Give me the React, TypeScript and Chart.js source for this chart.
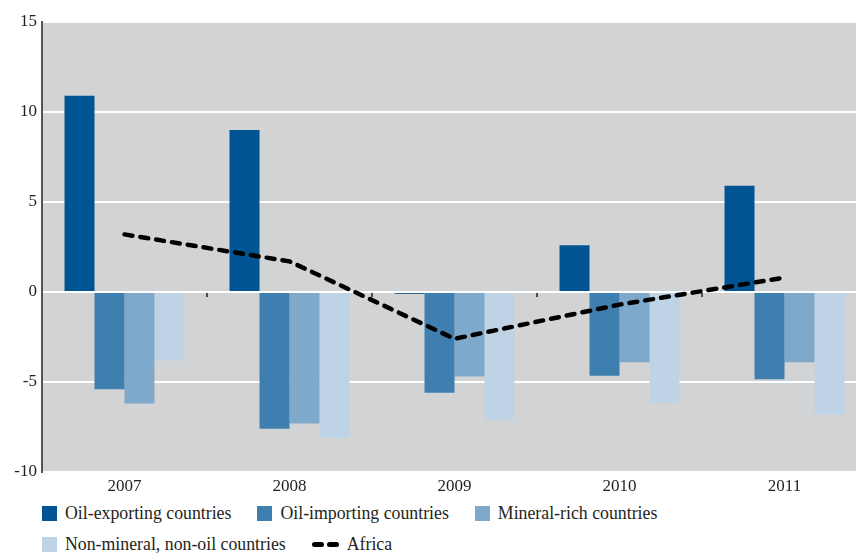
import React, { useEffect, useRef } from "react";
import { Chart, registerables } from "chart.js";

Chart.register(...registerables);

const categories = ["2007", "2008", "2009", "2010", "2011"];
const oilExporting = [10.9, 9.0, -0.1, 2.6, 5.9];
const oilImporting = [-5.4, -7.6, -5.6, -4.65, -4.85];
const mineralRich = [-6.2, -7.3, -4.7, -3.9, -3.9];
const nonMineralNonOil = [-3.8, -8.1, -7.1, -6.15, -6.8];
const africa = [3.2, 1.7, -2.6, -0.7, 0.8];
const yTickValues = [-10, -5, 0, 5, 10, 15];

const barLabels = [
  "Oil-exporting countries",
  "Oil-importing countries",
  "Mineral-rich countries",
  "Non-mineral, non-oil countries",
];
const lineLabel = "Africa";
const barColors = ["#005493", "#3F7FB0", "#7FA9CB", "#BED4E6"];
const lineColor = "#000000";

const FONT = "'Liberation Serif', 'Times New Roman', serif";
const TEXT = "#231f20";

const bgPlugin = {
  id: "plotBg",
  beforeDraw(chart: any) {
    const { ctx, chartArea } = chart;
    ctx.save();
    ctx.fillStyle = "#D2D3D5";
    ctx.fillRect(chartArea.left, chartArea.top, chartArea.right - chartArea.left, chartArea.bottom - chartArea.top);
    ctx.restore();
  },
};

const zeroTicksPlugin = {
  id: "zeroTicks",
  afterDatasetsDraw(chart: any) {
    const { ctx } = chart;
    const xs = chart.scales.x;
    const ys = chart.scales.y;
    const n = categories.length;
    const step = (xs.right - xs.left) / n;
    const y0 = ys.getPixelForValue(0);
    ctx.save();
    ctx.strokeStyle = "#222";
    ctx.lineWidth = 1.5;
    for (let i = 1; i < n; i++) {
      const x = xs.left + i * step;
      ctx.beginPath();
      ctx.moveTo(x, y0 + 1);
      ctx.lineTo(x, y0 + 5);
      ctx.stroke();
    }
    ctx.restore();
  },
};

export default function App() {
  const ref = useRef<HTMLCanvasElement | null>(null);

  useEffect(() => {
    if (!ref.current) return;
    const barSeries = [oilExporting, oilImporting, mineralRich, nonMineralNonOil];
    const chart = new Chart(ref.current, {
      type: "bar",
      data: {
        labels: categories,
        datasets: [
          {
            type: "line",
            label: lineLabel,
            data: africa,
            borderColor: lineColor,
            borderWidth: 4.5,
            borderDash: [8, 8],
            borderCapStyle: "round",
            borderJoinStyle: "round",
            pointRadius: 0,
            fill: false,
            tension: 0,
            order: 0,
          } as any,
          ...barSeries.map((d, i) => ({
            type: "bar" as const,
            label: barLabels[i],
            data: d,
            backgroundColor: barColors[i],
            borderWidth: 0,
            barPercentage: 1,
            categoryPercentage: 0.727,
            order: 1,
          })),
        ],
      },
      options: {
        responsive: false,
        animation: false,
        layout: { padding: { top: 22, right: 1, left: 0, bottom: 0 } },
        plugins: {
          legend: { display: false },
          tooltip: { enabled: false },
          title: { display: false },
        },
        scales: {
          x: {
            grid: { display: false },
            border: { display: false },
            ticks: { font: { family: FONT, size: 17 }, color: TEXT, padding: -4 },
            afterFit(s: any) {
              s.height = 28;
            },
          },
          y: {
            min: -10,
            max: 15,
            afterBuildTicks(s: any) {
              s.ticks = yTickValues.map((v) => ({ value: v }));
            },
            grid: { color: "#ffffff", lineWidth: 2, drawTicks: false },
            border: { color: "#555555", width: 2 },
            ticks: { font: { family: FONT, size: 17 }, color: TEXT, padding: 5 },
            afterFit(s: any) {
              s.width = 42;
            },
          },
        },
      },
      plugins: [bgPlugin, zeroTicksPlugin],
    });
    return () => chart.destroy();
  }, []);

  const legendText: React.CSSProperties = {
    fontFamily: FONT,
    fontSize: 17.8,
    color: TEXT,
    whiteSpace: "nowrap",
    lineHeight: "17px",
  };
  const box = (c: string): React.CSSProperties => ({
    width: 15,
    height: 15,
    background: c,
    marginRight: 8,
    flex: "0 0 auto",
  });
  const item: React.CSSProperties = { display: "flex", alignItems: "center", marginRight: 26 };

  return (
    <div
      style={{
        position: "fixed",
        left: 0,
        top: 0,
        width: 856,
        height: 553,
        overflow: "hidden",
        background: "#fff",
      }}
    >
      <canvas ref={ref} width={868} height={500} style={{ position: "absolute", left: 0, top: 0 }} />
      <div style={{ position: "absolute", left: 42, top: 505, display: "flex" }}>
        {barLabels.slice(0, 3).map((l, i) => (
          <div key={l} style={item}>
            <div style={box(barColors[i])} />
            <span style={legendText}>{l}</span>
          </div>
        ))}
      </div>
      <div style={{ position: "absolute", left: 42, top: 536, display: "flex" }}>
        <div style={item}>
          <div style={box(barColors[3])} />
          <span style={legendText}>{barLabels[3]}</span>
        </div>
        <div style={item}>
          <div style={{ display: "flex", marginRight: 8 }}>
            <div style={{ width: 12, height: 5, borderRadius: 2.5, background: lineColor, marginRight: 3 }} />
            <div style={{ width: 12, height: 5, borderRadius: 2.5, background: lineColor }} />
          </div>
          <span style={legendText}>{lineLabel}</span>
        </div>
      </div>
    </div>
  );
}
